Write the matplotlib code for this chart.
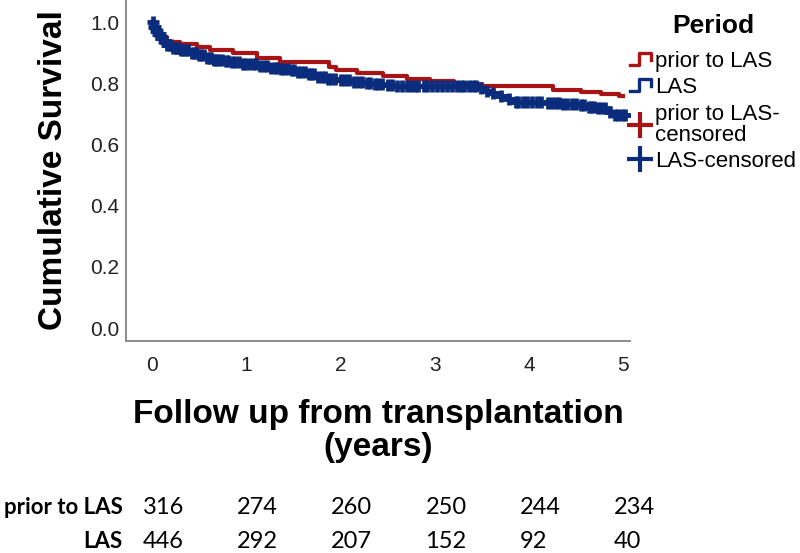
import matplotlib
matplotlib.use("Agg")
import matplotlib.pyplot as plt
import numpy as np
from matplotlib.lines import Line2D
from matplotlib.legend_handler import HandlerBase
import matplotlib.transforms as mtransforms

# ---------------- data ----------------
prior_t = [0, 0.03, 0.06, 0.10, 0.16, 0.30, 0.48, 0.62, 0.86, 1.11, 1.36, 1.88, 1.95,
           2.17, 2.45, 2.70, 2.95, 3.20, 3.50, 4.25, 4.55, 4.76, 4.95]
prior_s = [1.0, 0.98, 0.965, 0.95, 0.935, 0.928, 0.92, 0.91, 0.90, 0.884, 0.868, 0.852, 0.843,
           0.833, 0.824, 0.815, 0.806, 0.798, 0.79, 0.778, 0.771, 0.766, 0.757]
prior_end = 5.0

las_t = [0, 0.02, 0.04, 0.06, 0.085, 0.12, 0.16, 0.22, 0.30, 0.40, 0.48, 0.56, 0.65, 0.75,
         0.83, 0.95, 1.11, 1.25, 1.36, 1.45, 1.54, 1.65, 1.75, 1.86, 1.96, 2.10, 2.24, 2.35,
         2.45, 2.60, 3.35, 3.48, 3.51, 3.58, 3.66, 3.75, 3.83, 4.19, 4.35, 4.54, 4.62, 4.72,
         4.82, 4.90]
las_s = [1.0, 0.985, 0.972, 0.96, 0.948, 0.937, 0.925, 0.915, 0.908, 0.90, 0.892, 0.884, 0.876,
         0.872, 0.868, 0.862, 0.855, 0.851, 0.848, 0.843, 0.837, 0.829, 0.821, 0.815, 0.81,
         0.805, 0.80, 0.797, 0.794, 0.792, 0.79, 0.786, 0.776, 0.768, 0.757, 0.748, 0.74,
         0.736, 0.733, 0.729, 0.724, 0.718, 0.706, 0.697]
las_end = 5.04

las_censor = [0.01, 0.02, 0.03, 0.04, 0.05, 0.06, 0.07, 0.08, 0.09, 0.10, 0.11, 0.13, 0.14,
              0.16, 0.18, 0.20, 0.22, 0.25, 0.27, 0.28, 0.31, 0.33, 0.36, 0.38, 0.42, 0.45,
              0.47, 0.50, 0.52, 0.55, 0.58, 0.61, 0.63, 0.66, 0.68, 0.71, 0.74, 0.78, 0.81,
              0.85, 0.88, 0.92, 0.96, 0.99, 1.03, 1.07, 1.10, 1.15, 1.19, 1.22, 1.26, 1.30,
              1.33, 1.37, 1.40, 1.44, 1.48, 1.51, 1.55, 1.58, 1.62, 1.66, 1.69, 1.72, 1.76,
              1.80, 1.83, 1.87, 1.90, 1.94, 2.00, 2.05, 2.09, 2.14, 2.19, 2.23, 2.28, 2.31,
              2.36, 2.40, 2.44, 2.50, 2.55, 2.60, 2.65, 2.70, 2.75, 2.79, 2.82, 2.88, 2.92,
              2.97, 3.02, 3.08, 3.13, 3.18, 3.23, 3.28, 3.31, 3.36, 3.40, 3.44, 3.49, 3.55,
              3.62, 3.70, 3.79, 3.86, 3.88, 3.93, 3.98, 4.03, 4.08, 4.13, 4.20, 4.24, 4.28,
              4.32, 4.36, 4.40, 4.45, 4.50, 4.55, 4.58, 4.63, 4.66, 4.69, 4.73, 4.76, 4.80,
              4.86, 4.91, 4.94, 4.98, 5.02]

periods = ["prior to LAS", "LAS"]
risk_times = [0, 1, 2, 3, 4, 5]
risk_prior = [316, 274, 260, 250, 244, 234]
risk_las = [446, 292, 207, 152, 92, 40]

RED = "#a81414"
BLUE = "#0b2c7c"

plt.rcParams["font.family"] = ["Liberation Sans", "DejaVu Sans"]

fig = plt.figure(figsize=(8.0, 5.53), dpi=100)
ax = fig.add_axes([0.1575, 0.3834, 0.63, 0.6166])


def step_xy(t, s, end):
    x = list(t) + [end]
    y = list(s) + [s[-1]]
    return x, y


def surv_at(t, s, times):
    idx = np.searchsorted(np.asarray(t), np.asarray(times), side="right") - 1
    return np.asarray(s)[idx]


px, py = step_xy(prior_t, prior_s, prior_end)
lx, ly = step_xy(las_t, las_s, las_end)
ax.step(px, py, where="post", color=RED, lw=3.0, zorder=3)
ax.step(lx, ly, where="post", color=BLUE, lw=3.4, zorder=4)
ax.plot(las_censor, surv_at(las_t, las_s, las_censor), ls="none", marker="+",
        ms=9, mew=3.4, color=BLUE, zorder=5)

ax.set_xlim(-0.276, 5.07)
ax.set_ylim(-0.042, 1.072)
ax.set_xticks(risk_times)
ax.set_yticks([0.0, 0.2, 0.4, 0.6, 0.8, 1.0])
ax.set_yticklabels(["0.0", "0.2", "0.4", "0.6", "0.8", "1.0"])
ax.tick_params(axis="both", length=0, labelsize=15, labelcolor="#222222")
ax.tick_params(axis="x", pad=11)
ax.tick_params(axis="y", pad=5)
for side in ["top", "right"]:
    ax.spines[side].set_visible(False)
for side in ["left", "bottom"]:
    ax.spines[side].set_color("#8c8c8c")
    ax.spines[side].set_linewidth(1.4)

ax.set_ylabel("Cumulative Survival", fontsize=24, fontweight="bold", labelpad=15)
ax.set_xlabel("Follow up from transplantation\n(years)", fontsize=24,
              fontweight="bold", labelpad=17, linespacing=1.08)


class StepHandler(HandlerBase):
    def create_artists(self, legend, orig_handle, xdescent, ydescent, width, height,
                       fontsize, trans):
        x0 = -xdescent
        y0 = -ydescent
        xs = [x0, x0 + 0.45 * width, x0 + 0.45 * width, x0 + width, x0 + width]
        ys = [y0 + 0.15 * height, y0 + 0.15 * height, y0 + 0.9 * height,
              y0 + 0.9 * height, y0 + 0.45 * height]
        ln = Line2D(xs, ys, color=orig_handle.get_color(), lw=2.4, transform=trans)
        return [ln]


h1 = Line2D([], [], color=RED)
h2 = Line2D([], [], color=BLUE)
h3 = Line2D([], [], ls="none", marker="+", ms=19, mew=3.0, color=RED)
h4 = Line2D([], [], ls="none", marker="+", ms=19, mew=3.0, color=BLUE)
leg = fig.legend([h1, h2, h3, h4],
                 ["prior to LAS", "LAS", "prior to LAS-\ncensored", "LAS-censored"],
                 loc="upper left", bbox_to_anchor=(0.776, 0.99), frameon=False,
                 title="Period", fontsize=16, handlelength=0.95, handletextpad=0.2,
                 labelspacing=0.24, borderaxespad=0,
                 handler_map={h1: StepHandler(), h2: StepHandler()})
leg.get_title().set_fontweight("bold")
leg.get_title().set_fontsize(19)
for txt in leg.get_texts():
    txt.set_linespacing(1.02)
leg._legend_box.sep = 9

# number at risk table
tr = mtransforms.blended_transform_factory(ax.transData, fig.transFigure)
table_font = ["Lato", "Liberation Sans", "DejaVu Sans"]
row_y = [1 - 507 / 553, 1 - 542 / 553]
for name, counts, yy in zip(periods, [risk_prior, risk_las], row_y):
    fig.text(0.153, yy, name, ha="right", va="center", fontsize=16, fontweight="bold",
             family=table_font)
    for t, c in zip(risk_times, counts):
        ax.text(t - 0.1, yy, str(c), transform=tr, ha="left", va="center", fontsize=17,
                family=table_font, clip_on=False)

fig.savefig("out.png", dpi=100)
